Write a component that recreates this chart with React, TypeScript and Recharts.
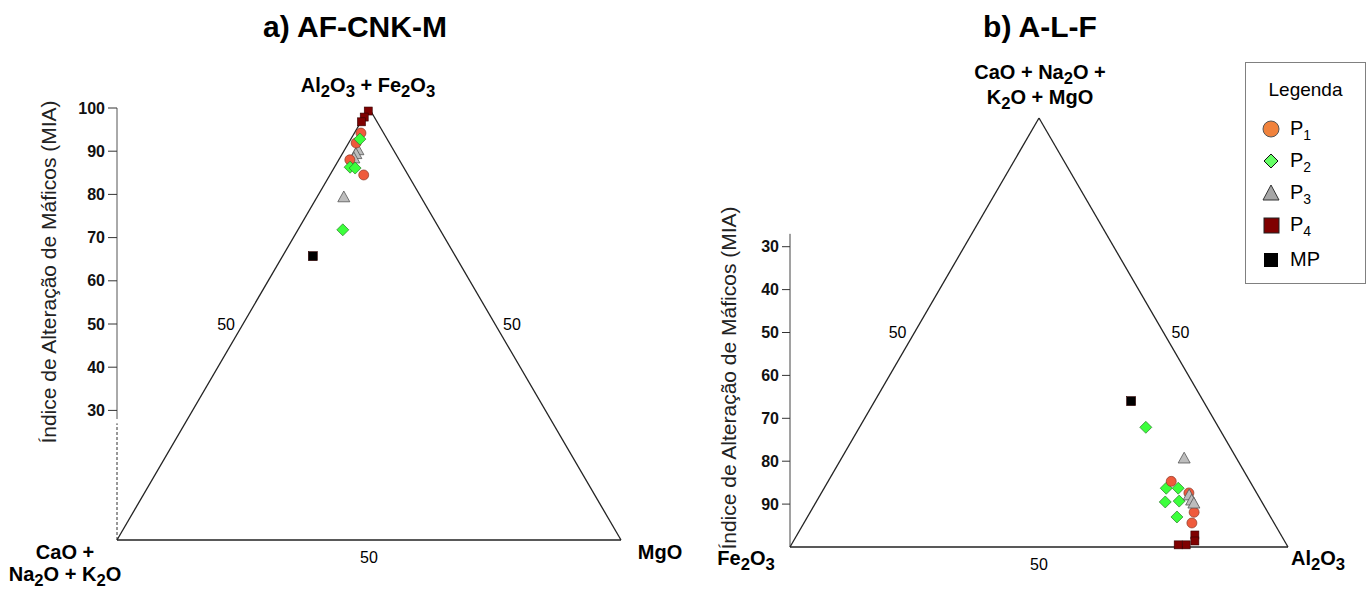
import { ScatterChart, Scatter, XAxis, YAxis, ReferenceLine, ReferenceDot } from 'recharts'

const FONT = '"Liberation Sans", Arial, sans-serif'

// a) AF-CNK-M : AF (= MIA) and M, in %
const A_P1_AF = [94.2, 91.9, 88.0, 84.5]
const A_P1_M = [1.3, 1.5, 2.2, 6.7]
const A_P2_AF = [92.8, 86.3, 86.1, 71.8]
const A_P2_M = [1.8, 3.1, 4.2, 8.9]
const A_P3_AF = [90.3, 89.4, 88.4, 79.4]
const A_P3_M = [2.65, 2.7, 2.8, 5.3]
const A_P4_AF = [99.3, 97.9, 96.8]
const A_P4_M = [0.2, 0.1, 0.1]
const A_MP_AF = [65.7]
const A_MP_M = [6.0]

// b) A-L-F : MIA (= 100 - L) and A, in %
const B_P1_MIA = [84.7, 87.4, 91.9, 94.4]
const B_P1_A = [68.9, 73.8, 77.1, 77.9]
const B_P2_MIA = [72.1, 86.3, 86.3, 89.5, 89.3, 93.0]
const B_P2_A = [57.5, 68.7, 71.1, 70.1, 72.8, 74.2]
const B_P3_MIA = [79.3, 87.9, 89.1, 89.8]
const B_P3_A = [68.8, 74.1, 75.2, 76.0]
const B_P4_MIA = [97.2, 98.6, 99.5, 99.5]
const B_P4_A = [79.9, 80.6, 79.3, 77.7]
const B_MP_MIA = [66.0]
const B_MP_A = [51.5]

const A_TICKS = [30, 40, 50, 60, 70, 80, 90, 100]
const B_TICKS = [30, 40, 50, 60, 70, 80, 90]

// ternary -> cartesian (x across the base, y = MIA)
const toA = (af: number[], m: number[]) => af.map((v, i) => ({ x: m[i] + v / 2, y: v }))
const toB = (mia: number[], a: number[]) => mia.map((v, i) => ({ x: a[i] + (100 - v) / 2, y: v }))

const C_P1 = '#EF5A3C'
const C_P2 = '#3CFF3C'
const C_P3 = '#BDBDBD'
const C_P4 = '#7F0000'
const C_MP = '#000000'

const circle = (fill: string, r: number) => (p: any) =>
  <circle cx={p.cx} cy={p.cy} r={r} fill={fill} stroke="#8a3a2a" strokeWidth={0.7} />
const diamond = (fill: string, s: number) => (p: any) =>
  <path d={`M${p.cx},${p.cy - s}L${p.cx + s},${p.cy}L${p.cx},${p.cy + s}L${p.cx - s},${p.cy}Z`} fill={fill} stroke="#2a7a2a" strokeWidth={0.7} />
const triangle = (fill: string, s: number) => (p: any) =>
  <path d={`M${p.cx},${p.cy - s}L${p.cx + s},${p.cy + s * 0.8}L${p.cx - s},${p.cy + s * 0.8}Z`} fill={fill} stroke="#555" strokeWidth={0.8} />
const square = (fill: string, s: number) => (p: any) =>
  <rect x={p.cx - s / 2} y={p.cy - s / 2} width={s} height={s} fill={fill} stroke="#300" strokeWidth={0.6} />

const Txt = ({ x, y, size, bold, spacing, children }: any) => (
  <div style={{
    position: 'absolute', left: x, top: y, transform: 'translate(-50%,-50%)', whiteSpace: 'nowrap',
    fontFamily: FONT, fontSize: size, fontWeight: bold ? 'bold' : 'normal', color: '#000', lineHeight: 1,
    letterSpacing: spacing ?? 0,
  }}>{children}</div>
)

const VText = ({ x, y, children }: any) => (
  <div style={{
    position: 'absolute', left: x, top: y, transform: 'translate(-50%,-50%) rotate(-90deg)', whiteSpace: 'nowrap',
    fontFamily: FONT, fontSize: 21, color: '#222', lineHeight: 1,
  }}>{children}</div>
)

const fifty = (pos: any, offset: number) => ({ value: '50', position: pos, offset, fill: '#000', fontSize: 16, fontFamily: FONT })
const tickStyle = { fill: '#111', fontSize: 16, fontWeight: 'bold', fontFamily: FONT }

function LegendBox() {
  const items = [
    { y: 128, label: <>P<sub style={{ fontSize: 14 }}>1</sub></>, icon: <circle cx={10} cy={10} r={8} fill="#F0823C" stroke="#555" strokeWidth={1} /> },
    { y: 160, label: <>P<sub style={{ fontSize: 14 }}>2</sub></>, icon: <path d="M10,3L17,10L10,17L3,10Z" fill="#66FF66" stroke="#111" strokeWidth={1} /> },
    { y: 192, label: <>P<sub style={{ fontSize: 14 }}>3</sub></>, icon: <path d="M10,2L18,17L2,17Z" fill="#A6A6A6" stroke="#333" strokeWidth={1} /> },
    { y: 224, label: <>P<sub style={{ fontSize: 14 }}>4</sub></>, icon: <rect x={3} y={3} width={15} height={15} fill="#7F0000" stroke="#222" strokeWidth={1} /> },
    { y: 259, label: <>MP</>, icon: <rect x={3} y={3} width={14} height={14} fill="#000" /> },
  ]
  return (
    <div style={{ position: 'absolute', left: 1245, top: 62, width: 119, height: 220, border: '1px solid #808080', background: '#fff' }}>
      <div style={{ position: 'absolute', left: 0, width: 119, top: 17, textAlign: 'center', fontFamily: FONT, fontSize: 19, lineHeight: 1 }}>Legenda</div>
      {items.map((it, i) => (
        <div key={i}>
          <svg width={20} height={20} style={{ position: 'absolute', left: 15, top: it.y - 62 - 10 }}>{it.icon}</svg>
          <div style={{ position: 'absolute', left: 44, top: it.y - 62 - 11, fontFamily: FONT, fontSize: 20, lineHeight: 1 }}>{it.label}</div>
        </div>
      ))}
    </div>
  )
}

export default function App() {
  return (
    <div style={{ position: 'absolute', left: 0, top: 0, width: 1369, height: 590, background: '#fff', overflow: 'hidden' }}>
      <div style={{ position: 'absolute', left: 0, top: 0 }}>
        <ScatterChart width={680} height={590} margin={{ top: 108, right: 59, bottom: 50, left: 77 }}>
          <XAxis type="number" dataKey="x" domain={[0, 100]} hide />
          <YAxis type="number" dataKey="y" domain={[0, 100]} ticks={A_TICKS} interval={0} width={40}
            axisLine={false} tickSize={9} tickMargin={3} tickLine={{ stroke: '#333' }} tick={tickStyle} />
          <ReferenceLine segment={[{ x: 0, y: 28 }, { x: 0, y: 100 }]} stroke="#555" strokeWidth={1} />
          <ReferenceLine segment={[{ x: 0, y: 0 }, { x: 0, y: 27 }]} stroke="#333" strokeDasharray="3 2" strokeWidth={1} />
          <ReferenceLine segment={[{ x: 0, y: 0 }, { x: 100, y: 0 }]} stroke="#222" strokeWidth={1.3} />
          <ReferenceLine segment={[{ x: 100, y: 0 }, { x: 50, y: 100 }]} stroke="#222" strokeWidth={1.3} />
          <ReferenceLine segment={[{ x: 50, y: 100 }, { x: 0, y: 0 }]} stroke="#222" strokeWidth={1.3} />
          <ReferenceDot x={25} y={50} r={0} fill="none" stroke="none" label={fifty('left', 8)} />
          <ReferenceDot x={75} y={50} r={0} fill="none" stroke="none" label={fifty('right', 8)} />
          <ReferenceDot x={50} y={0} r={0} fill="none" stroke="none" label={fifty('bottom', 12)} />
          <Scatter name="MP" data={toA(A_MP_AF, A_MP_M)} shape={square(C_MP, 9)} isAnimationActive={false} />
          <Scatter name="P3" data={toA(A_P3_AF, A_P3_M)} shape={triangle(C_P3, 6)} isAnimationActive={false} />
          <Scatter name="P1" data={toA(A_P1_AF, A_P1_M)} shape={circle(C_P1, 5)} isAnimationActive={false} />
          <Scatter name="P2" data={toA(A_P2_AF, A_P2_M)} shape={diamond(C_P2, 6)} isAnimationActive={false} />
          <Scatter name="P4" data={toA(A_P4_AF, A_P4_M)} shape={square(C_P4, 8)} isAnimationActive={false} />
        </ScatterChart>
      </div>
      <div style={{ position: 'absolute', left: 680, top: 0 }}>
        <ScatterChart width={689} height={590} margin={{ top: 118, right: 81, bottom: 43, left: 70 }}>
          <XAxis type="number" dataKey="x" domain={[0, 100]} hide />
          <YAxis type="number" dataKey="y" domain={[0, 100]} reversed ticks={B_TICKS} interval={0} width={40}
            axisLine={false} tickSize={8} tickMargin={3} tickLine={{ stroke: '#333' }} tick={tickStyle} />
          <ReferenceLine segment={[{ x: 0, y: 27 }, { x: 0, y: 100 }]} stroke="#444" strokeWidth={1} />
          <ReferenceLine segment={[{ x: 0, y: 100 }, { x: 100, y: 100 }]} stroke="#222" strokeWidth={1.3} />
          <ReferenceLine segment={[{ x: 100, y: 100 }, { x: 50, y: 0 }]} stroke="#222" strokeWidth={1.3} />
          <ReferenceLine segment={[{ x: 50, y: 0 }, { x: 0, y: 100 }]} stroke="#222" strokeWidth={1.3} />
          <ReferenceDot x={25} y={50} r={0} fill="none" stroke="none" label={fifty('left', 8)} />
          <ReferenceDot x={75} y={50} r={0} fill="none" stroke="none" label={fifty('right', 8)} />
          <ReferenceDot x={50} y={100} r={0} fill="none" stroke="none" label={fifty('bottom', 12)} />
          <Scatter name="MP" data={toB(B_MP_MIA, B_MP_A)} shape={square(C_MP, 9)} isAnimationActive={false} />
          <Scatter name="P2" data={toB(B_P2_MIA, B_P2_A)} shape={diamond(C_P2, 6)} isAnimationActive={false} />
          <Scatter name="P1" data={toB(B_P1_MIA, B_P1_A)} shape={circle(C_P1, 5)} isAnimationActive={false} />
          <Scatter name="P3" data={toB(B_P3_MIA, B_P3_A)} shape={triangle(C_P3, 6)} isAnimationActive={false} />
          <Scatter name="P4" data={toB(B_P4_MIA, B_P4_A)} shape={square(C_P4, 8)} isAnimationActive={false} />
        </ScatterChart>
      </div>

      <Txt x={355} y={27} size={30} bold>a) AF-CNK-M</Txt>
      <Txt x={1040} y={27} size={30} bold>b) A-L-F</Txt>

      <Txt x={368} y={88} size={20} bold>Al<sub>2</sub>O<sub>3</sub> + Fe<sub>2</sub>O<sub>3</sub></Txt>
      <Txt x={65} y={552} size={20} bold>CaO +</Txt>
      <Txt x={65} y={577} size={20} bold>Na<sub>2</sub>O + K<sub>2</sub>O</Txt>
      <Txt x={660} y={552} size={20} bold>MgO</Txt>

      <Txt x={1040} y={75} size={20} bold>CaO + Na<sub>2</sub>O +</Txt>
      <Txt x={1040} y={100} size={20} bold>K<sub>2</sub>O + MgO</Txt>
      <Txt x={746} y={561} size={20} bold>Fe<sub>2</sub>O<sub>3</sub></Txt>
      <Txt x={1318} y={561} size={20} bold>Al<sub>2</sub>O<sub>3</sub></Txt>

      <VText x={48} y={272}>Índice de Alteração de Máficos (MIA)</VText>
      <VText x={728} y={378}>Índice de Alteração de Máficos (MIA)</VText>

      <LegendBox />
    </div>
  )
}
